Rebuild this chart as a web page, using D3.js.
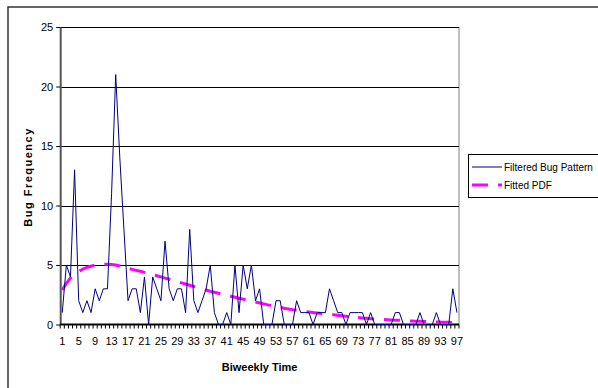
<!DOCTYPE html>
<html>
<head>
<meta charset="utf-8">
<script src="https://cdn.jsdelivr.net/npm/d3@7"></script>
<style>
  body { margin: 0; background: #fff; }
  svg { display: block; font-family: "Liberation Sans", Arial, sans-serif; }
</style>
</head>
<body>
<svg id="chart" width="598" height="388"></svg>
<script>
// biweekly periods 1..97
var periods = d3.range(1, 98);

// filtered bug counts per period
var bugCounts = [1, 5, 4, 13, 2, 1, 2, 1, 3, 2,
                 3, 3, 11, 21, 14, 8, 2, 3, 3, 1,
                 4, 0, 4, 3, 2, 7, 3, 2, 3, 3,
                 1, 8, 2, 1, 2, 3, 5, 1, 0, 0,
                 1, 0, 5, 1, 5, 3, 5, 2, 3, 0,
                 0, 0, 2, 2, 0, 0, 0, 2, 1, 1,
                 1, 0, 1, 1, 1, 3, 2, 1, 1, 0,
                 1, 1, 1, 1, 0, 1, 0, 0, 0, 0,
                 0, 1, 1, 0, 0, 0, 0, 1, 0, 0,
                 0, 1, 0, 0, 0, 3, 1];

// fitted pdf curve
var fittedPdf = [2.9, 3.45, 3.9, 4.22, 4.45, 4.65, 4.8, 4.9, 5.0, 5.05,
                 5.07, 5.07, 5.05, 5.0, 4.92, 4.82, 4.72, 4.63, 4.55, 4.47,
                 4.38, 4.3, 4.2, 4.1, 4.0, 3.9, 3.8, 3.7, 3.6, 3.5,
                 3.4, 3.3, 3.2, 3.1, 3.0, 2.9, 2.8, 2.71, 2.62, 2.53,
                 2.45, 2.37, 2.29, 2.21, 2.13, 2.05, 1.97, 1.89, 1.81, 1.73,
                 1.65, 1.58, 1.51, 1.44, 1.37, 1.31, 1.25, 1.2, 1.15, 1.1,
                 1.05, 1.0, 0.96, 0.92, 0.88, 0.85, 0.82, 0.78, 0.74, 0.7,
                 0.66, 0.62, 0.59, 0.55, 0.52, 0.49, 0.46, 0.44, 0.42, 0.4,
                 0.38, 0.36, 0.35, 0.33, 0.31, 0.3, 0.28, 0.27, 0.26, 0.25,
                 0.23, 0.22, 0.2, 0.19, 0.18, 0.17, 0.16];

var yTicks = [0, 5, 10, 15, 20, 25];
var seriesNames = ["Filtered Bug Pattern", "Fitted PDF"];

var svg = d3.select("#chart");

var plotLeft = 60.2, plotRight = 459, plotTop = 27, plotBottom = 324.5;

var x = d3.scaleBand().domain(periods).range([plotLeft, plotRight]);
var y = d3.scaleLinear().domain([0, 25]).range([plotBottom, plotTop]);
var cx = function (d) { return x(d) + x.bandwidth() / 2; };

// outer chart frame
svg.append("rect")
    .attr("x", 8).attr("y", 7)
    .attr("width", 640).attr("height", 420)
    .attr("fill", "none")
    .attr("stroke", "#333")
    .attr("stroke-width", 1.5);

// plot area right border
svg.append("line")
    .attr("x1", plotRight).attr("x2", plotRight)
    .attr("y1", plotTop).attr("y2", plotBottom)
    .attr("stroke", "#808080");

// gridlines
svg.append("g")
    .selectAll("line")
    .data(yTicks.slice(1))
    .enter().append("line")
    .attr("x1", plotLeft).attr("x2", plotRight)
    .attr("y1", function (d) { return Math.round(y(d)) + 0.5; })
    .attr("y2", function (d) { return Math.round(y(d)) + 0.5; })
    .attr("stroke", "#000");

// y axis
var yAxis = svg.append("g")
    .attr("transform", "translate(" + plotLeft + ",0)")
    .call(d3.axisLeft(y).tickValues(yTicks).tickSize(4).tickSizeOuter(0).tickPadding(3));
yAxis.select(".domain").attr("stroke", "#555").attr("stroke-width", 2);
yAxis.selectAll(".tick line").attr("stroke", "#000");
yAxis.selectAll("text")
    .attr("font-size", 11)
    .attr("fill", "#000")
    .attr("font-family", "Liberation Sans, Arial, sans-serif");

// x axis: labels every 4th period, ticks between periods
var xAxis = svg.append("g")
    .attr("transform", "translate(0," + plotBottom + ")")
    .call(d3.axisBottom(x)
        .tickValues(periods.filter(function (d) { return (d - 1) % 4 === 0; }))
        .tickSize(0).tickPadding(13));
xAxis.select(".domain").remove();
xAxis.selectAll("text")
    .attr("font-size", 11)
    .attr("fill", "#000")
    .attr("font-family", "Liberation Sans, Arial, sans-serif");

var bounds = periods.map(function (d) { return x(d); }).concat([plotRight]);
svg.append("g")
    .selectAll("line")
    .data(bounds)
    .enter().append("line")
    .attr("x1", function (d) { return d; })
    .attr("x2", function (d) { return d; })
    .attr("y1", plotBottom).attr("y2", plotBottom + 4)
    .attr("stroke", "#000");

svg.append("line")
    .attr("x1", plotLeft).attr("x2", plotRight)
    .attr("y1", plotBottom).attr("y2", plotBottom)
    .attr("stroke", "#000")
    .attr("stroke-width", 2);

// series lines
var seriesLine = d3.line()
    .x(function (d, i) { return cx(periods[i]); })
    .y(function (d) { return y(d); });

svg.append("path")
    .datum(fittedPdf)
    .attr("d", seriesLine)
    .attr("fill", "none")
    .attr("stroke", "#ff00ff")
    .attr("stroke-width", 3)
    .attr("stroke-dasharray", "16,10");

svg.append("path")
    .datum(bugCounts)
    .attr("d", seriesLine)
    .attr("fill", "none")
    .attr("stroke", "#000080")
    .attr("stroke-width", 1);

// axis titles
svg.append("text")
    .attr("x", (plotLeft + plotRight) / 2)
    .attr("y", 371)
    .attr("text-anchor", "middle")
    .attr("font-size", 11)
    .attr("font-weight", "bold")
    .text("Biweekly Time");

svg.append("text")
    .attr("transform", "translate(32,177) rotate(-90)")
    .attr("text-anchor", "middle")
    .attr("font-size", 11)
    .attr("font-weight", "bold")
    .attr("letter-spacing", 1.5)
    .text("Bug Frequency");

// legend
var legend = svg.append("g");
legend.append("rect")
    .attr("x", 468.5).attr("y", 154.5)
    .attr("width", 140).attr("height", 43)
    .attr("fill", "#fff")
    .attr("stroke", "#000");

var legendRows = legend.selectAll("g.row")
    .data(seriesNames)
    .enter().append("g")
    .attr("class", "row")
    .attr("transform", function (d, i) { return "translate(0," + (167 + i * 18) + ")"; });

legendRows.append("line")
    .attr("x1", 472).attr("x2", 502)
    .attr("y1", 0).attr("y2", 0)
    .attr("stroke", function (d, i) { return i === 0 ? "#000080" : "#ff00ff"; })
    .attr("stroke-width", function (d, i) { return i === 0 ? 1 : 3; })
    .attr("stroke-dasharray", function (d, i) { return i === 0 ? null : "16,10"; });

legendRows.append("text")
    .attr("x", 504)
    .attr("y", 4)
    .attr("font-size", 10)
    .text(function (d) { return d; });
</script>
</body>
</html>
